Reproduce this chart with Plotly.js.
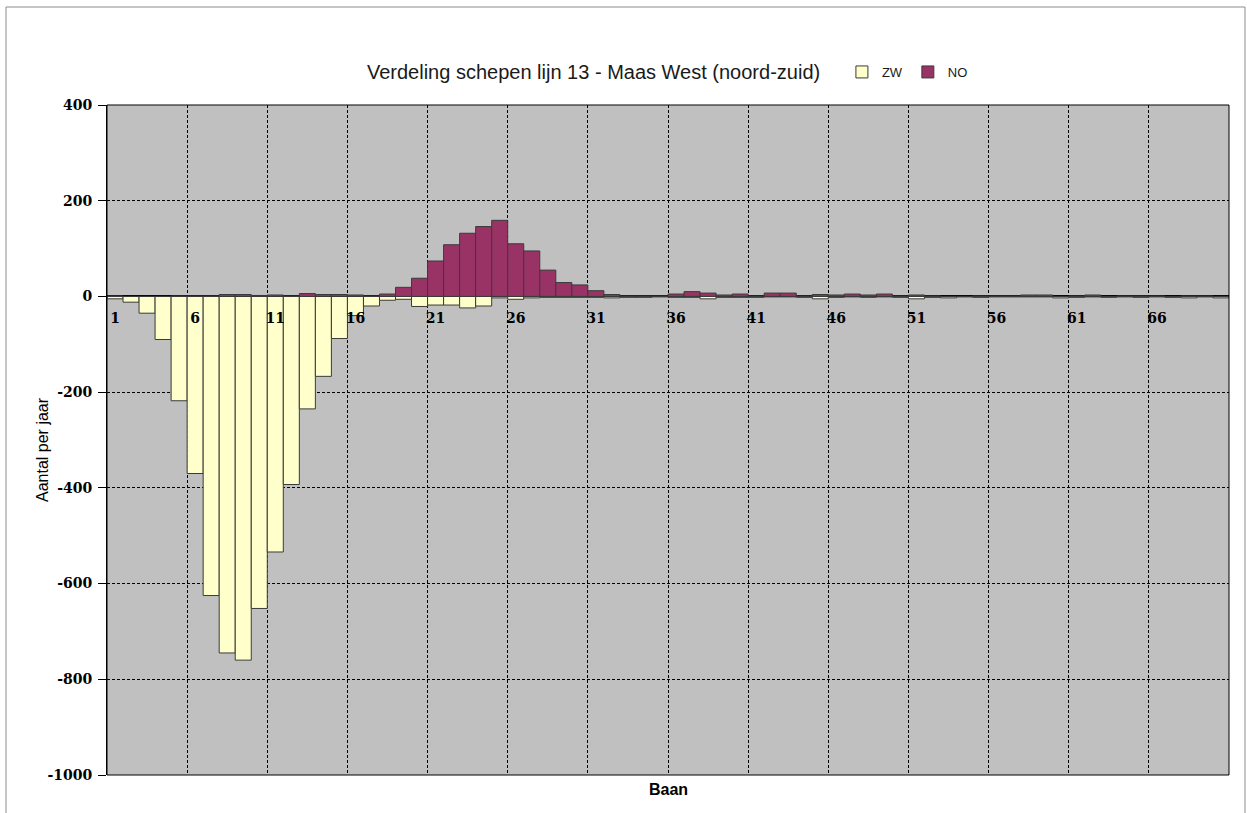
<!DOCTYPE html>
<html>
<head>
<meta charset="utf-8">
<script src="https://cdn.plot.ly/plotly-3.0.1.min.js"></script>
<style>
  html, body { margin: 0; padding: 0; background: #ffffff; }
  #chart { width: 1247px; height: 813px; }
</style>
</head>
<body>
<div id="chart"></div>
<script>
// ---- data ----
const chartTitle = "Verdeling schepen lijn 13 - Maas West (noord-zuid)";
const xTitle = "Baan";
const yTitle = "Aantal per jaar";
const seriesNames = ["ZW", "NO"];

const baan = [];
for (let i = 1; i <= 70; i++) baan.push(i);

const zw = [
  -5, -12, -35, -90, -218, -370, -625, -745, -760, -652,
  -534, -393, -235, -167, -88, -40, -20, -8, -6, -21,
  -18, -18, -24, -20, -3, -6, -3, -2, -2, -2,
  -2, -3, -2, -2, -1, -2, -2, -5, -2, -2,
  -2, -1, -1, -2, -5, -2, -1, -2, -1, -2,
  -5, -2, -3, -1, -2, -1, -1, -1, -1, -3,
  -2, -1, -2, -1, -2, -1, -2, -3, -1, -3
];

const no = [
  1, 0, 0, 0, 1, 1, 1, 4, 4, 2,
  3, 1, 6, 4, 4, 3, 1, 5, 19, 38,
  74, 108, 132, 146, 159, 110, 95, 55, 29, 24,
  12, 4, 1, 1, 1, 5, 10, 7, 3, 5,
  1, 7, 7, 1, 4, 3, 5, 3, 5, 1,
  3, 1, 0, 0, 1, 1, 1, 3, 3, 0,
  1, 3, 0, 1, 1, 1, 0, 1, 1, 0
];

const yRange = [-1000, 400];
const yStep = 200;
const labelStep = 5;

// y tick values / labels (plain hyphen minus as in the reference)
const yTickVals = [];
for (let v = yRange[0]; v <= yRange[1]; v += yStep) yTickVals.push(v);
const yTickText = yTickVals.map(v => String(v));

// ---- styles ----
const zwColor = "#FFFFCC";
const noColor = "#993366";
const outline = "#3a3a3a";
const plotBg = "#C0C0C0";
const sansFont = "'Liberation Sans', Arial, sans-serif";
const serifFont = "'DejaVu Serif', 'Liberation Serif', serif";

const traces = [
  {
    type: "bar", name: seriesNames[0], x: baan, y: zw,
    marker: { color: zwColor, line: { color: outline, width: 1 } },
    hoverinfo: "x+y"
  },
  {
    type: "bar", name: seriesNames[1], x: baan, y: no,
    marker: { color: noColor, line: { color: outline, width: 1 } },
    hoverinfo: "x+y"
  }
];

const zeroPos = (0 - yRange[0]) / (yRange[1] - yRange[0]);

const layout = {
  width: 1247, height: 813,
  margin: { l: 107, r: 18, t: 105, b: 38 },
  paper_bgcolor: "#ffffff",
  plot_bgcolor: plotBg,
  barmode: "overlay",
  bargap: 0,
  showlegend: true,
  title: {
    text: chartTitle,
    font: { family: sansFont, size: 20, color: "#1a1a1a" },
    xref: "container", x: 0.476, xanchor: "center",
    yref: "container", y: 1 - 72 / 813, yanchor: "middle"
  },
  legend: {
    orientation: "h",
    x: 0.655, xanchor: "left",
    y: 1 + 33 / 670, yanchor: "middle",
    font: { family: sansFont, size: 13, color: "#1a1a1a" },
    bgcolor: "rgba(0,0,0,0)",
    itemwidth: 30,
    traceorder: "normal"
  },
  xaxis: {
    type: "category",
    anchor: "free",
    position: zeroPos,
    range: [-0.5, baan.length - 0.5],
    tickmode: "linear",
    tick0: 0,
    dtick: labelStep,
    tickson: "boundaries",
    tickangle: 0,
    ticks: "",
    ticklabelstandoff: 12,
    showline: false,
    showgrid: true,
    gridcolor: "#000000",
    griddash: "3px,2px",
    gridwidth: 1,
    tickfont: { family: serifFont, size: 14, color: "#000000", weight: "bold" },
    fixedrange: true
  },
  yaxis: {
    range: yRange,
    tickmode: "array",
    tickvals: yTickVals,
    ticktext: yTickText,
    ticks: "outside",
    ticklen: 8,
    tickcolor: "#000000",
    ticklabelstandoff: 3,
    showline: true,
    linecolor: "#000000",
    linewidth: 1,
    showgrid: true,
    gridcolor: "#000000",
    griddash: "3px,2px",
    gridwidth: 1,
    zeroline: true,
    zerolinecolor: "#000000",
    zerolinewidth: 2,
    tickfont: { family: serifFont, size: 14, color: "#000000", weight: "bold" },
    fixedrange: true
  },
  annotations: [
    {
      text: xTitle, xref: "paper", yref: "paper",
      x: 0.5, y: 0, yshift: -14, xanchor: "center", yanchor: "middle",
      showarrow: false,
      font: { family: sansFont, size: 16, color: "#000000", weight: "bold" }
    },
    {
      text: yTitle, xref: "paper", yref: "paper",
      x: 0, xshift: -65, y: 0.5, yshift: -10,
      xanchor: "center", yanchor: "middle", textangle: -90,
      showarrow: false,
      font: { family: sansFont, size: 16, color: "#000000" }
    }
  ],
  shapes: [
    {
      type: "rect", xref: "paper", yref: "paper",
      x0: 0, x1: 1, y0: 0, y1: 1,
      line: { color: "#000000", width: 1 }, fillcolor: "rgba(0,0,0,0)",
      layer: "above"
    },
    {
      type: "rect", xref: "paper", yref: "paper",
      x0: -101 / 1122, x1: 1 + 16 / 1122, y0: -50 / 670, y1: 1 + 98 / 670,
      line: { color: "#8c8c8c", width: 1 }, fillcolor: "rgba(0,0,0,0)",
      layer: "below"
    }
  ]
};

Plotly.newPlot("chart", traces, layout, { displayModeBar: false, staticPlot: true });
</script>
</body>
</html>
